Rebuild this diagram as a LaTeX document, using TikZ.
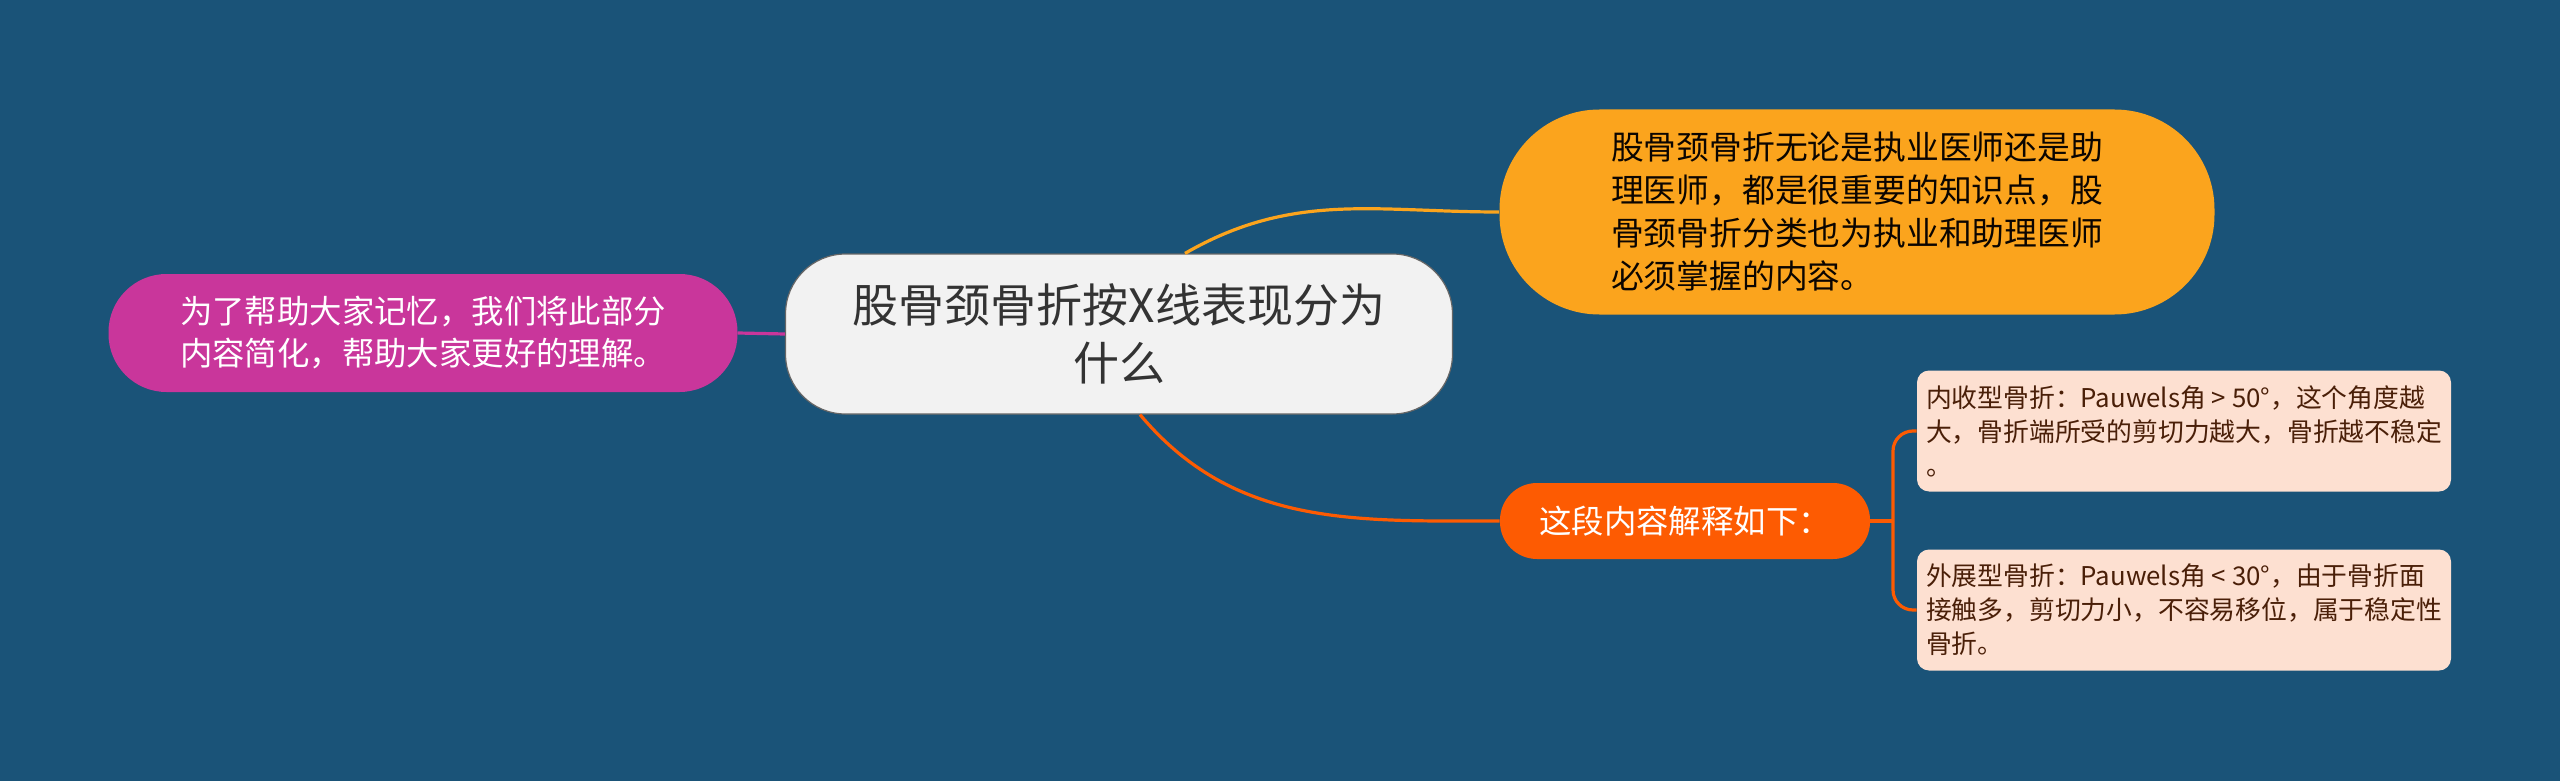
\documentclass[tikz,border=0pt]{standalone}
\usepackage{fontspec}
\newfontfamily\cjk{Noto Sans CJK SC}
\usetikzlibrary{positioning}

\definecolor{bg}{HTML}{1A5378}
\definecolor{topicgray}{HTML}{F2F2F2}
\definecolor{magenta}{HTML}{C9369B}
\definecolor{amber}{HTML}{FBA41D}
\definecolor{redorange}{HTML}{FD5B02}
\definecolor{peach}{HTML}{FDE0D1}
\definecolor{brown}{HTML}{4A1F08}

\tikzset{
  pill/.style={inner sep=0pt, align=left},
  leaf/.style={pill, fill=peach, text=brown, rounded corners=6pt,
    minimum width=267pt, minimum height=60.5pt,
    font=\cjk\fontsize{12.9pt}{17pt}\selectfont},
  link/.style={line width=1.6pt}
}

\begin{document}
\begin{tikzpicture}[x=0.5pt,y=-0.5pt]
\fill[bg] (0,0) rectangle (2560,781);
\useasboundingbox (0,0) rectangle (2560,781);

\node [pill, align=center, fill=topicgray, draw=black!60, line width=0.6pt,
  rounded corners=30pt, minimum width=333.5pt, minimum height=80pt,
  text=black!80, font=\cjk\fontsize{23pt}{29pt}\selectfont]
  (c) at (1119,334) {股骨颈骨折按X线表现分为\\什么};

\node [pill, fill=magenta, text=white, rounded corners=29pt,
  minimum width=314.5pt, minimum height=59pt,
  font=\cjk\fontsize{16.2pt}{21pt}\selectfont]
  (l) at (423,333) {为了帮助大家记忆，我们将此部分\\内容简化，帮助大家更好的理解。};

\node [pill, fill=amber, text=black!85!brown, rounded corners=50pt,
  minimum width=357.5pt, minimum height=102.5pt,
  font=\cjk\fontsize{16.4pt}{21.5pt}\selectfont]
  (t) at (1857,212) {股骨颈骨折无论是执业医师还是助\\理医师，都是很重要的知识点，股\\骨颈骨折分类也为执业和助理医师\\必须掌握的内容。};

\node [pill, fill=redorange, text=white, rounded corners=18.5pt,
  minimum width=185pt, minimum height=38pt,
  font=\cjk\fontsize{16.2pt}{21pt}\selectfont]
  (o) at (1685,521) {这段内容解释如下：};

\def\leaves{1/431/{内收型骨折：Pauwels角 > 50°，这个角度越\\大，骨折端所受的剪切力越大，骨折越不稳定\\。},
  2/610/{外展型骨折：Pauwels角 < 30°，由于骨折面\\接触多，剪切力小，不容易移位，属于稳定性\\骨折。}}
\foreach \i / \y / \txt in \leaves
  \node [leaf] (s\i) at (2184,\y) {\txt};

\draw [link, magenta] (l.east) -- (c.west);
\draw [link, amber] ([xshift=33pt]c.north) to[out=30,in=180] (t.west);
\draw [link, redorange] ([xshift=10.5pt]c.south) to[out=-50,in=180] (o.west);

\coordinate (k) at (1893,521);
\draw [link, redorange] (o.east) -- (k);
\foreach \i in {1,2}
  \draw [link, redorange, rounded corners=10pt] (k) |- (s\i.west);

\end{tikzpicture}
\end{document}
